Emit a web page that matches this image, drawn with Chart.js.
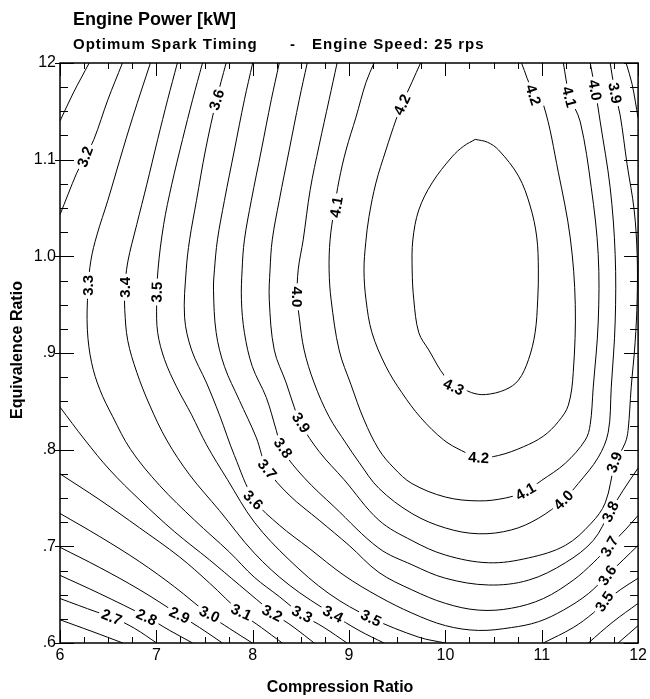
<!DOCTYPE html>
<html>
<head>
<meta charset="utf-8">
<script src="https://cdn.jsdelivr.net/npm/chart.js@4.4.0/dist/chart.umd.min.js"></script>
<style>
  html, body { margin: 0; padding: 0; background: #fff; }
  #marco { width: 650px; height: 699px; }
</style>
</head>
<body>
<div id="marco"><canvas id="graficoPotencia" width="650" height="699"></canvas></div>
<script>
// ===================================
// DATOS
// ===================================
const xTickValues = [6, 7, 8, 9, 10, 11, 12];
const xTickLabels = ['6', '7', '8', '9', '10', '11', '12'];
const yTickValues = [0.6, 0.7, 0.8, 0.9, 1.0, 1.1, 1.2];
const yTickLabels = ['.6', '.7', '.8', '.9', '1.0', '1.1', '12'];

// isolineas [relacion de compresion, relacion de equivalencia]
const iso26 = [[6.000,0.624],[6.331,0.612],[6.652,0.600]];
const iso27 = [[6.000,0.646],[6.383,0.632],[6.538,0.627],[6.776,0.615],[7.003,0.600]];
const iso28 = [[6.000,0.670],[6.414,0.651],[6.900,0.627],[7.138,0.613],[7.376,0.600]];
const iso29 = [[6.000,0.699],[6.414,0.678],[6.828,0.655],[7.241,0.629],[7.448,0.616],[7.686,0.600]];
const iso30 = [[6.000,0.734],[6.414,0.710],[6.828,0.684],[7.190,0.658],[7.552,0.629],[7.759,0.615],[7.996,0.600]];
const iso31a = [[6.000,1.140],[6.138,1.169],[6.303,1.200]];
const iso31b = [[6.000,0.775],[6.414,0.748],[6.828,0.719],[7.241,0.689],[7.552,0.662],[7.883,0.631],[8.090,0.616],[8.307,0.600]];
const iso32a = [[6.648,1.200],[6.497,1.162],[6.352,1.121],[6.259,1.103],[6.173,1.086],[6.083,1.064],[6.000,1.043]];
const iso32b = [[6.000,0.844],[6.259,0.810],[6.517,0.779],[6.828,0.748],[7.190,0.715],[7.552,0.686],[7.862,0.660],[8.214,0.631],[8.431,0.616],[8.638,0.600]];
const iso33 = [[6.938,1.200],[6.755,1.144],[6.621,1.100],[6.497,1.058],[6.383,1.022],[6.321,0.996],[6.290,0.965],[6.284,0.924],[6.328,0.890],[6.414,0.862],[6.548,0.834],[6.734,0.800],[7.034,0.763],[7.397,0.727],[7.759,0.694],[8.017,0.668],[8.276,0.648],[8.503,0.630],[8.741,0.616],[8.979,0.600]];
const iso33r = [[11.793,0.600],[12.000,0.618]];
const iso34 = [[7.218,1.200],[7.117,1.162],[7.014,1.121],[6.900,1.074],[6.797,1.033],[6.703,0.994],[6.672,0.965],[6.672,0.945],[6.703,0.913],[6.797,0.880],[6.931,0.846],[7.107,0.810],[7.345,0.774],[7.655,0.737],[8.017,0.693],[8.379,0.660],[8.824,0.630],[9.103,0.613],[9.362,0.600]];
const iso34r = [[11.483,0.600],[11.741,0.622],[12.000,0.641]];
const iso35 = [[7.479,1.200],[7.376,1.162],[7.272,1.121],[7.159,1.074],[7.076,1.033],[7.017,0.986],[7.003,0.950],[7.014,0.921],[7.086,0.893],[7.210,0.865],[7.366,0.836],[7.521,0.805],[7.738,0.769],[8.017,0.725],[8.379,0.686],[8.793,0.651],[9.228,0.626],[9.724,0.606],[10.000,0.600]];
const iso35r = [[11.017,0.600],[11.327,0.616],[11.534,0.631],[11.648,0.642],[11.814,0.655],[12.000,0.667]];
const iso36 = [[7.724,1.200],[7.624,1.162],[7.510,1.110],[7.417,1.058],[7.345,1.017],[7.310,0.986],[7.293,0.937],[7.366,0.903],[7.521,0.869],[7.655,0.836],[7.810,0.794],[8.017,0.748],[8.276,0.722],[8.586,0.698],[8.948,0.670],[9.310,0.648],[9.652,0.631],[10.000,0.618],[10.345,0.613],[10.686,0.616],[10.965,0.622],[11.224,0.634],[11.483,0.651],[11.679,0.670],[11.845,0.686],[12.000,0.701]];
const iso37 = [[8.000,1.200],[7.914,1.162],[7.810,1.110],[7.707,1.058],[7.634,1.017],[7.603,0.986],[7.593,0.965],[7.621,0.921],[7.707,0.886],[7.862,0.851],[8.035,0.813],[8.152,0.780],[8.379,0.753],[8.690,0.727],[9.000,0.701],[9.310,0.673],[9.652,0.655],[10.000,0.641],[10.345,0.634],[10.686,0.636],[11.017,0.646],[11.327,0.665],[11.534,0.683],[11.700,0.700],[11.866,0.717],[12.000,0.732]];
const iso38 = [[8.276,1.200],[8.193,1.162],[8.090,1.110],[7.986,1.058],[7.914,1.017],[7.890,0.986],[7.883,0.955],[7.914,0.921],[7.996,0.886],[8.141,0.854],[8.245,0.820],[8.307,0.800],[8.534,0.771],[8.845,0.741],[9.310,0.698],[9.652,0.681],[10.000,0.667],[10.448,0.660],[10.862,0.665],[11.245,0.683],[11.534,0.706],[11.710,0.736],[11.845,0.758],[12.000,0.781]];
const iso38r = [[11.876,1.200],[11.938,1.178],[12.000,1.143]];
const iso39 = [[8.566,1.200],[8.483,1.162],[8.379,1.110],[8.276,1.058],[8.203,1.017],[8.180,0.986],[8.172,0.955],[8.224,0.903],[8.348,0.869],[8.431,0.844],[8.503,0.826],[8.690,0.798],[8.948,0.769],[9.310,0.727],[9.652,0.706],[10.000,0.691],[10.448,0.683],[10.862,0.688],[11.245,0.701],[11.514,0.724],[11.659,0.745],[11.762,0.786],[11.866,0.807],[11.896,0.820],[11.928,0.864],[11.969,0.911],[11.990,0.955],[11.990,1.002],[11.959,1.048],[11.886,1.095],[11.814,1.146],[11.762,1.169],[11.710,1.200]];
const iso40 = [[8.876,1.200],[8.793,1.162],[8.690,1.115],[8.597,1.069],[8.524,1.017],[8.472,0.986],[8.462,0.958],[8.483,0.937],[8.534,0.903],[8.638,0.869],[8.793,0.834],[8.966,0.807],[9.103,0.787],[9.310,0.760],[9.652,0.734],[10.000,0.719],[10.345,0.713],[10.686,0.717],[10.965,0.729],[11.224,0.748],[11.379,0.765],[11.586,0.792],[11.690,0.818],[11.721,0.864],[11.762,0.932],[11.762,1.002],[11.710,1.071],[11.607,1.139],[11.555,1.172],[11.503,1.200]];
const iso41 = [[9.259,1.200],[9.176,1.180],[9.072,1.144],[8.969,1.110],[8.897,1.079],[8.845,1.048],[8.803,1.017],[8.793,0.986],[8.814,0.955],[8.897,0.903],[9.021,0.867],[9.155,0.831],[9.310,0.800],[9.466,0.781],[9.652,0.765],[10.000,0.751],[10.345,0.747],[10.624,0.750],[10.831,0.757],[10.996,0.768],[11.245,0.786],[11.452,0.810],[11.503,0.826],[11.534,0.864],[11.586,0.932],[11.586,1.002],[11.514,1.071],[11.400,1.139],[11.286,1.167],[11.224,1.200]];
const iso42 = [[9.742,1.200],[9.652,1.180],[9.548,1.157],[9.486,1.141],[9.383,1.110],[9.279,1.076],[9.207,1.041],[9.173,1.014],[9.155,0.986],[9.176,0.955],[9.238,0.921],[9.383,0.886],[9.548,0.859],[9.745,0.833],[9.983,0.810],[10.169,0.799],[10.345,0.792],[10.552,0.794],[10.810,0.803],[11.017,0.814],[11.172,0.829],[11.276,0.846],[11.327,0.880],[11.348,0.950],[11.296,1.019],[11.172,1.087],[11.017,1.157],[10.914,1.169],[10.790,1.200]];
const iso43 = [[10.310,1.121],[10.438,1.118],[10.552,1.110],[10.759,1.083],[10.880,1.052],[10.948,1.020],[10.965,0.986],[10.958,0.955],[10.931,0.921],[10.862,0.893],[10.759,0.872],[10.621,0.862],[10.414,0.857],[10.272,0.859],[10.117,0.867],[10.000,0.875],[9.828,0.903],[9.724,0.921],[9.672,0.955],[9.655,0.986],[9.662,1.017],[9.724,1.048],[9.862,1.076],[10.069,1.103],[10.190,1.114],[10.310,1.121]];

// etiquetas de las isolineas
const labelTexts  = ['3.2','3.6','4.1','4.2','4.2','4.1','4.0','3.9','3.3','3.4','3.5','4.0','4.3','4.2','4.1','4.0','3.9','3.8','3.7','3.6','3.5','3.9','3.8','3.7','3.6','2.7','2.8','2.9','3.0','3.1','3.2','3.3','3.4','3.5'];
const labelX      = [6.259,7.624,8.866,9.548,10.914,11.286,11.555,11.762,6.290,6.672,7.003,8.462,10.086,10.345,10.831,11.224,11.752,11.710,11.700,11.679,11.648,8.503,8.317,8.152,8.007,6.538,6.900,7.241,7.552,7.883,8.203,8.514,8.834,9.228];
const labelY      = [1.103,1.162,1.051,1.157,1.167,1.165,1.172,1.169,0.970,0.968,0.963,0.958,0.865,0.792,0.757,0.748,0.787,0.736,0.700,0.670,0.643,0.828,0.802,0.780,0.748,0.627,0.627,0.629,0.630,0.632,0.631,0.630,0.630,0.626];
const labelAngles = [-70,-72,-80,-65,72,75,80,80,-90,-90,-88,90,25,3,-30,-45,-70,-65,-60,-55,-55,58,55,50,45,22,25,25,25,25,27,27,27,25];

const FUENTE = "'Liberation Sans', Arial, Helvetica, sans-serif";

const isolineas = [iso26, iso27, iso28, iso29, iso30, iso31a, iso31b, iso32a, iso32b, iso33, iso33r,
  iso34, iso34r, iso35, iso35r, iso36, iso37, iso38, iso38r, iso39, iso40, iso41, iso42, iso43];

const datasets = isolineas.map(pts => ({
  data: pts.map(p => ({ x: p[0], y: p[1] })),
  showLine: true,
  borderColor: '#000',
  borderWidth: 1,
  pointRadius: 0,
  tension: 0.35,
  fill: false
}));

// ===================================
// PLUGIN: marco, marcas, textos
// ===================================
const marcoPlugin = {
  id: 'marcoContorno',
  afterDatasetsDraw(chart){
    const { ctx, scales: { x, y } } = chart;
    ctx.save();
    ctx.font = 'bold 15px ' + FUENTE;
    ctx.textAlign = 'center';
    ctx.textBaseline = 'middle';
    labelTexts.forEach((t, i) => {
      const px = x.getPixelForValue(labelX[i]);
      const py = y.getPixelForValue(labelY[i]);
      ctx.save();
      ctx.translate(px, py);
      ctx.rotate(labelAngles[i] * Math.PI / 180);
      const w = ctx.measureText(t).width;
      ctx.fillStyle = '#fff';
      ctx.fillRect(-w / 2 - 3, -7, w + 6, 14);
      ctx.fillStyle = '#000';
      ctx.fillText(t, 0, 1);
      ctx.restore();
    });
    ctx.restore();
  },
  afterDraw(chart){
    const { ctx, chartArea: a, scales: { x, y } } = chart;
    ctx.save();
    ctx.strokeStyle = '#000';

    // marcas del eje x (abajo y arriba)
    ctx.lineWidth = 1;
    ctx.beginPath();
    for(let k = 0; k <= 24; k++){
      const v = 6 + k * 0.25;
      const px = Math.round(x.getPixelForValue(v)) + 0.5;
      const largo = (k % 4 === 0) ? 13 : 6;
      ctx.moveTo(px, a.bottom); ctx.lineTo(px, a.bottom - largo);
      ctx.moveTo(px, a.top); ctx.lineTo(px, a.top + largo);
    }
    // marcas del eje y (izquierda y derecha)
    for(let k = 0; k <= 24; k++){
      const v = 0.6 + k * 0.025;
      const py = Math.round(y.getPixelForValue(v)) + 0.5;
      const mayor = (k % 4 === 0);
      const largo = mayor ? 14 : 8;
      ctx.moveTo(a.left - (mayor ? 5 : 0), py); ctx.lineTo(a.left + largo, py);
      ctx.moveTo(a.right, py); ctx.lineTo(a.right - largo, py);
    }
    ctx.stroke();

    // marco
    ctx.lineWidth = 1.5;
    ctx.strokeRect(a.left, a.top, a.right - a.left, a.bottom - a.top);

    // titulos
    ctx.fillStyle = '#000';
    ctx.textBaseline = 'alphabetic';
    ctx.textAlign = 'left';
    ctx.font = 'bold 18px ' + FUENTE;
    ctx.fillText('Engine Power [kW]', 73, 25);
    ctx.font = 'bold 15px ' + FUENTE;
    ctx.letterSpacing = '1px';
    ctx.fillText('Optimum Spark Timing', 73, 49);
    ctx.fillText('-', 290, 49);
    ctx.fillText('Engine Speed: 25 rps', 312, 49);
    ctx.letterSpacing = '0px';

    // titulos de ejes
    ctx.font = 'bold 16px ' + FUENTE;
    ctx.textAlign = 'center';
    ctx.textBaseline = 'middle';
    ctx.fillText('Compression Ratio', 340, 688);
    ctx.save();
    ctx.translate(18, 350);
    ctx.rotate(-Math.PI / 2);
    ctx.fillText('Equivalence Ratio', 0, 0);
    ctx.restore();

    ctx.restore();
  }
};

// ===================================
// GRAFICO
// ===================================
const canvas = document.getElementById('graficoPotencia');
const ctx = canvas.getContext('2d');

const indiceDe = (lista, v) => lista.findIndex(t => Math.abs(t - v) < 1e-6);

new Chart(ctx, {
  type: 'scatter',
  data: { datasets },
  options: {
    responsive: false,
    animation: false,
    devicePixelRatio: 1,
    layout: { padding: { top: 63, right: 10, left: 0, bottom: 0 } },
    plugins: {
      legend: { display: false },
      tooltip: { enabled: false },
      title: { display: false }
    },
    scales: {
      x: {
        type: 'linear',
        min: 6, max: 12,
        grid: { display: false, drawTicks: false },
        border: { display: false },
        afterBuildTicks: s => { s.ticks = xTickValues.map(v => ({ value: v })); },
        afterFit: s => { s.height = 56; },
        ticks: {
          callback: v => xTickLabels[indiceDe(xTickValues, v)],
          color: '#000',
          font: { family: FUENTE, size: 16 },
          padding: 3,
          maxRotation: 0,
          autoSkip: false
        }
      },
      y: {
        type: 'linear',
        min: 0.6, max: 1.2,
        grid: { display: false, drawTicks: false },
        border: { display: false },
        afterBuildTicks: s => { s.ticks = yTickValues.map(v => ({ value: v })); },
        afterFit: s => { s.width = 60; },
        ticks: {
          callback: v => yTickLabels[indiceDe(yTickValues, v)],
          color: '#000',
          font: { family: FUENTE, size: 16 },
          padding: 4,
          autoSkip: false
        }
      }
    }
  },
  plugins: [marcoPlugin]
});
</script>
</body>
</html>
